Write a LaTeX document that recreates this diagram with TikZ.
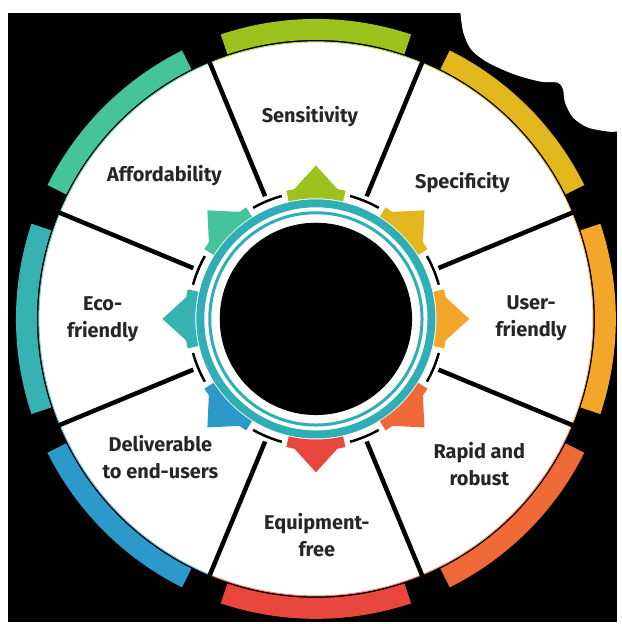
\documentclass[tikz,border=0pt]{standalone}
\usepackage{fontspec}
\setsansfont{Fira Sans}
\definecolor{cSens}{HTML}{9DC11D}
\definecolor{cSpec}{HTML}{E2B71E}
\definecolor{cUser}{HTML}{F4A62B}
\definecolor{cRap}{HTML}{EF6A36}
\definecolor{cEquip}{HTML}{E9473D}
\definecolor{cDel}{HTML}{2B9ACB}
\definecolor{cEco}{HTML}{37B2B3}
\definecolor{cAff}{HTML}{45C49C}
\definecolor{ringteal}{HTML}{30AEB6}
\definecolor{txtgray}{HTML}{262626}

\begin{document}
\begin{tikzpicture}[x=1pt,y=1pt,
  lab/.style={font=\sffamily\bfseries\fontsize{20}{27}\selectfont,text=txtgray,align=center}]
% background
\fill[black] (-317,-304) rectangle (302,320);
\fill[white] (-317,307) rectangle (302,320);
\fill[white] (-317,-304) rectangle (-309,320);
\fill[white] plot[smooth] coordinates {(145,307) (148,287) (156,270) (173,257) (200,245)
  (226,238) (243,237) (248,230) (250,217) (258,202) (273,192) (293,188) (302,188)}
  -- (302,320) -- (145,320) -- cycle;
% segments and outer arcs
\foreach \a/\c in {90/cSens,45/cSpec,0/cUser,-45/cRap,-90/cEquip,-135/cDel,180/cEco,135/cAff}{
  \filldraw[fill=white,draw=\c!70,line width=1] (\a-22.5:130) arc[start angle=\a-22.5,end angle=\a+22.5,radius=130]
    -- (\a+22.5:278) arc[start angle=\a+22.5,end angle=\a-22.5,radius=278] -- cycle;
  \fill[\c] (\a-18.5:280) arc[start angle=\a-18.5,end angle=\a+18.5,radius=280]
    -- (\a+18.5:301) arc[start angle=\a+18.5,end angle=\a-18.5,radius=301] -- cycle;
}
\foreach \a in {0,45,...,315}
  \draw[black,line width=4.5] (\a+22.5:131) -- (\a+22.5:282);
% inner rings
\fill[white] (0,0) circle (133);
\draw[ringteal,line width=8] (0,0) circle (116);
\draw[ringteal,line width=3] (0,0) circle (106.5);
\fill[black] (0,0) circle (96.5);
\foreach \a/\c in {90/cSens,45/cSpec,0/cUser,-45/cRap,-90/cEquip,-135/cDel,180/cEco,135/cAff}{
  \draw[black,line width=2.5] (\a+15.5:128) arc[start angle=\a+15.5,end angle=\a+29.5,radius=128];
  \fill[\c] (\a-13:121) arc[start angle=\a-13,end angle=\a+13,radius=121]
    -- (\a+13:132) arc[start angle=\a+13,end angle=\a-13,radius=132] -- cycle;
  \fill[\c] (\a-10:131) -- (\a:154) -- (\a+10:131) -- cycle;
}
% labels
\node[lab] (sens) at (-6,203) {Sensitivity};
\node[lab] (spec) at (147,137) {Specificity};
\node[lab] (user) at (216,1) {User-\\friendly};
\node[lab] (rapid) at (164,-146) {Rapid and\\robust};
\node[lab] (equip) at (1,-217) {Equipment-\\free};
\node[lab] (deliv) at (-156,-139) {Deliverable\\to end-users};
\node[lab] (eco) at (-214,0) {Eco-\\friendly};
\node[lab] (afford) at (-152,144) {Affordability};
\end{tikzpicture}
\end{document}
